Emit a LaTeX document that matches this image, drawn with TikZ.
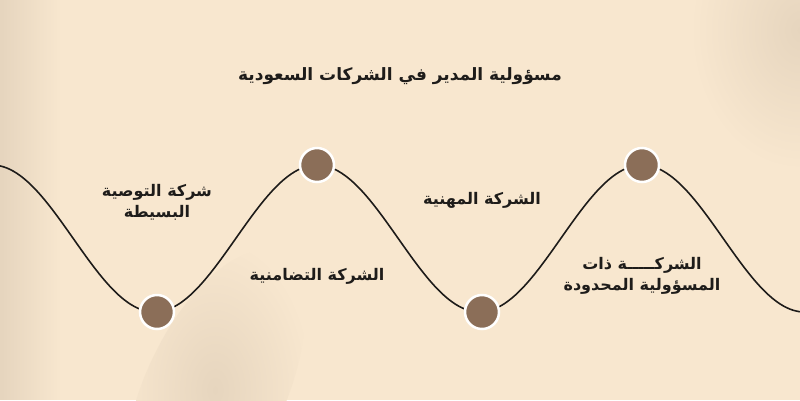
\documentclass[tikz,border=0pt]{standalone}
\usepackage{fontspec}
\usetikzlibrary{fadings}
\newfontfamily\arabicfont[Script=Arabic]{DejaVu Sans}
\TeXXeTstate=1
\definecolor{paper}{RGB}{248,231,207}
\definecolor{papershade}{RGB}{230,213,190}
\definecolor{dotbrown}{RGB}{139,110,88}
\definecolor{inkdark}{RGB}{30,28,26}
\tikzset{
  dot/.style={circle, fill=dotbrown, draw=white, line width=2.5pt, minimum size=34pt, inner sep=0pt},
  lbl/.style={font=\arabicfont\bfseries\fontsize{16}{21}\selectfont, text=inkdark, align=center},
  haze/.style={inner color=papershade, outer color=paper},
}

\begin{document}
\begin{tikzpicture}[x=1pt,y=-1pt]
			%%%%% START %%%%%
			
			\fill[paper] (0,0) rectangle (800,400);
			\useasboundingbox (0,0) rectangle (800,400);
			\begin{scope}
			\clip (0,0) rectangle (800,400);
			\fill[papershade, path fading=east] (0,0) rectangle (60,400);
			\shade[haze, rotate around={-25:(215,390)}] (215,390) ellipse (70 and 150);
			\shade[haze] (800,30) ellipse (110 and 140);
			\end{scope}
			
			\node[lbl, font=\arabicfont\bfseries\fontsize{17}{20}\selectfont] (title) at (400,76) {\beginR مسؤولية المدير في الشركات السعودية\endR};
			
			\draw[line width=1.6pt, color=inkdark, domain=0:800, samples=240, smooth] plot (\x, {238.5-73.5*cos(1.10769*(\x-317))});
			
			\node[dot] (d1) at (157,312) {};
			\node[dot] (d2) at (317,165) {};
			\node[dot] (d3) at (482,312) {};
			\node[dot] (d4) at (642,165) {};
			
			\node[lbl] (t1) at (157,202) {\beginR شركة التوصية\endR\\\beginR البسيطة\endR};
			\node[lbl] (t2) at (317,276) {\beginR الشركة التضامنية\endR};
			\node[lbl] (t3) at (482,200) {\beginR الشركة المهنية\endR};
			\node[lbl] (t4) at (642,276) {\beginR الشركـــــة ذات\endR\\\beginR المسؤولية المحدودة\endR};
			
			%%%%% END %%%%%
\end{tikzpicture}
\end{document}
